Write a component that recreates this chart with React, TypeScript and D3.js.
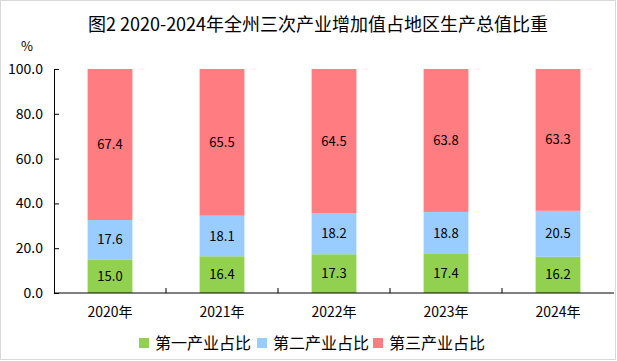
import React, { useEffect, useRef } from 'react';
import * as d3 from 'd3';

const years = ['2020年', '2021年', '2022年', '2023年', '2024年'];
const primary = [15.0, 16.4, 17.3, 17.4, 16.2];
const secondary = [17.6, 18.1, 18.2, 18.8, 20.5];
const tertiary = [67.4, 65.5, 64.5, 63.8, 63.3];
const seriesNames = ['第一产业占比', '第二产业占比', '第三产业占比'];
const seriesColors = ['#92D050', '#99CCFF', '#FF7C80'];
const yTicks = [0, 20, 40, 60, 80, 100];

const W = 617;
const H = 361;
const MARGIN = { top: 69, right: 3, bottom: 68, left: 54 };
const FONT = '"Noto Sans CJK SC", "Noto Sans", sans-serif';

const App: React.FC = () => {
  const svgRef = useRef<SVGSVGElement>(null);

  useEffect(() => {
    const svg = d3.select(svgRef.current);
    svg.selectAll('*').remove();

    const chartWidth = W - MARGIN.left - MARGIN.right;
    const chartHeight = H - MARGIN.top - MARGIN.bottom;

    // frame
    svg.append('rect')
      .attr('x', 0.5).attr('y', 0.5)
      .attr('width', W - 2).attr('height', H - 2)
      .attr('fill', '#fff').attr('stroke', '#d9d9d9');

    svg.append('text')
      .attr('x', 318).attr('y', 31)
      .attr('text-anchor', 'middle')
      .style('font-family', FONT).style('font-size', '18px')
      .attr('fill', '#000')
      .text('图2 2020-2024年全州三次产业增加值占地区生产总值比重');

    svg.append('text')
      .attr('x', 27).attr('y', 51)
      .attr('text-anchor', 'middle')
      .style('font-family', FONT).style('font-size', '13px')
      .text('%');

    const g = svg.append('g').attr('transform', `translate(${MARGIN.left},${MARGIN.top})`);

    const x = d3.scaleBand().domain(years).range([0, chartWidth]).paddingInner(0.6).paddingOuter(0.3);
    const xTick = d3.scaleBand().domain(years).range([0, chartWidth]);
    const y = d3.scaleLinear().domain([0, 100]).range([chartHeight, 0]);

    const stackData = years.map((yr, i) => ({ yr, s0: primary[i], s1: secondary[i], s2: tertiary[i] }));
    const stacked = d3.stack<any>().keys(['s0', 's1', 's2'])(stackData);

    stacked.forEach((layer, li) => {
      const lg = g.append('g');
      lg.selectAll('rect')
        .data(layer)
        .enter()
        .append('rect')
        .attr('x', d => x(d.data.yr)!)
        .attr('y', d => y(d[1]))
        .attr('width', x.bandwidth())
        .attr('height', d => y(d[0]) - y(d[1]))
        .attr('fill', seriesColors[li]);
      lg.selectAll('text')
        .data(layer)
        .enter()
        .append('text')
        .attr('x', d => x(d.data.yr)! + x.bandwidth() / 2)
        .attr('y', d => (y(d[0]) + y(d[1])) / 2)
        .attr('dy', '0.35em')
        .attr('text-anchor', 'middle')
        .style('font-family', FONT).style('font-size', '13px')
        .attr('fill', '#000')
        .text(d => (d[1] - d[0]).toFixed(1));
    });

    // y axis
    const yAxis = g.append('g')
      .call(d3.axisLeft(y).tickValues(yTicks).tickSize(5).tickSizeOuter(0).tickFormat(d => (+d).toFixed(1)));
    yAxis.select('.domain').attr('stroke', '#000');
    yAxis.selectAll('line').attr('stroke', '#000').attr('x1', 0).attr('x2', 5);
    yAxis.selectAll('text')
      .attr('x', -11)
      .style('font-family', FONT).style('font-size', '14px').attr('fill', '#000');

    // x axis
    const xAxis = g.append('g').attr('transform', `translate(0,${chartHeight})`);
    xAxis.append('line')
      .attr('x1', 0).attr('x2', chartWidth)
      .attr('stroke', '#000');
    xAxis.selectAll('.tick')
      .data(years.slice(1))
      .enter()
      .append('line')
      .attr('x1', d => xTick(d)!).attr('x2', d => xTick(d)!)
      .attr('y1', 0).attr('y2', -5)
      .attr('stroke', '#000');
    xAxis.selectAll('.lbl')
      .data(years)
      .enter()
      .append('text')
      .attr('x', d => xTick(d)! + xTick.bandwidth() / 2)
      .attr('y', 24)
      .attr('text-anchor', 'middle')
      .style('font-family', FONT).style('font-size', '14px')
      .attr('fill', '#000')
      .text(d => d);

    // legend
    const legendX = [139, 257, 373];
    const legend = svg.selectAll('.legend')
      .data(seriesNames)
      .enter()
      .append('g')
      .attr('transform', (d, i) => `translate(${legendX[i]},${343})`);
    legend.append('rect')
      .attr('x', 0).attr('y', -5)
      .attr('width', 10).attr('height', 10)
      .attr('fill', (d, i) => seriesColors[i]);
    legend.append('text')
      .attr('x', 16).attr('y', 0)
      .attr('dy', '0.35em')
      .style('font-family', FONT).style('font-size', '16px')
      .attr('fill', '#000')
      .text(d => d);
  }, []);

  return <svg ref={svgRef} width={W} height={H} style={{ position: 'absolute', left: 0, top: 0 }}></svg>;
};

export default App;
